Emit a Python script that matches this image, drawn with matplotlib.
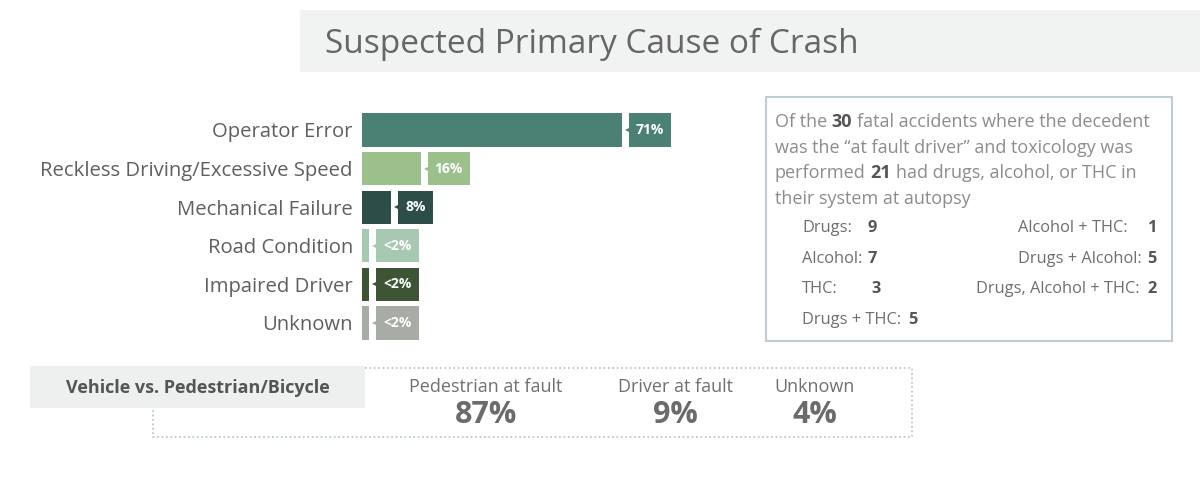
import matplotlib.pyplot as plt
from matplotlib.patches import Rectangle

plt.rcParams['font.family'] = ['Open Sans', 'DejaVu Sans']

# data
causes = ['Operator Error', 'Reckless Driving/Excessive Speed', 'Mechanical Failure',
          'Road Condition', 'Impaired Driver', 'Unknown']
cause_pct = [71, 16, 8, 2, 2, 2]
cause_labels = ['71%', '16%', '8%', '<2%', '<2%', '<2%']
cause_colors = ['#4b8175', '#9cc08c', '#2d4d48', '#a8c9b1', '#3e5535', '#a7aca5']

tox_total = 30
tox_positive = 21
tox_left = ['Drugs:', 'Alcohol:', 'THC:', 'Drugs + THC:']
tox_left_n = [9, 7, 3, 5]
tox_right = ['Alcohol + THC:', 'Drugs + Alcohol:', 'Drugs, Alcohol + THC:']
tox_right_n = [1, 5, 2]

ped_cats = ['Pedestrian at fault', 'Driver at fault', 'Unknown']
ped_pct = [87, 9, 4]

W, H = 1200, 488
fig = plt.figure(figsize=(12, 4.88), dpi=100)
fig.patch.set_facecolor('white')

# pixel-space overlay for the decorations
bg = fig.add_axes([0, 0, 1, 1])
bg.set_xlim(0, W)
bg.set_ylim(H, 0)
bg.axis('off')

renderer = fig.canvas.get_renderer()


def text_w(t):
    return t.get_window_extent(renderer).width


# title band
bg.add_patch(Rectangle((300, 10), 900, 62, fc='#f1f2f2', ec='none'))
bg.text(325, 44, 'Suspected Primary Cause of Crash', fontsize=24, color='#666666',
        va='center', ha='left')

# bar chart
px_per = 260 / 71
ax_left, ax_right = 362, 760
top, bottom = 110.7, 342.3
ax = fig.add_axes([ax_left / W, 1 - bottom / H, (ax_right - ax_left) / W, (bottom - top) / H])
ax.set_xlim(0, (ax_right - ax_left) / px_per)
ax.set_ylim(len(causes) - 0.5, -0.5)
ax.patch.set_alpha(0)
bh = 0.855
ypos = list(range(len(causes)))
ax.barh(ypos, cause_pct, height=bh, color=cause_colors)
ax.set_yticks(ypos)
ax.set_yticklabels(causes, fontsize=14.6, color='#5f5f5f')
ax.tick_params(axis='y', length=0, pad=6.5)
ax.set_xticks([])
for s in ax.spines.values():
    s.set_visible(False)

gap = 7 / px_per
padx = 7 / px_per
for i, (v, lab, c) in enumerate(zip(cause_pct, cause_labels, cause_colors)):
    x0 = v + gap
    t = ax.text(x0 + padx, i, lab, color='white', fontsize=10, fontweight='bold',
                va='center', ha='left', zorder=4)
    tw = text_w(t) / px_per
    ax.add_patch(Rectangle((x0, i - bh / 2), tw + 2 * padx, bh, fc=c, ec='none', zorder=3))
    ax.plot([x0], [i], marker='<', ms=6, mew=0, color=c, zorder=3, clip_on=False)

# toxicology box
bg.add_patch(Rectangle((766, 97), 406, 244, fc='none', ec='#bfcdd3', lw=1.5))
fs_p = 13
col_p = '#8c8c8c'
para = [
    [('Of the', 'normal'), (str(tox_total), 'bold'), ('fatal accidents where the decedent', 'normal')],
    [('was the \u201cat fault driver\u201d and toxicology was', 'normal')],
    [('performed', 'normal'), (str(tox_positive), 'bold'), ('had drugs, alcohol, or THC in', 'normal')],
    [('their system at autopsy', 'normal')],
]
sp1 = bg.text(600, 300, 'a a', fontsize=fs_p)
sp2 = bg.text(600, 300, 'aa', fontsize=fs_p)
space = text_w(sp1) - text_w(sp2)
sp1.remove()
sp2.remove()
for k, line in enumerate(para):
    x = 775
    y = 122 + k * 25.7
    for seg, wt in line:
        t = bg.text(x, y, seg, fontsize=fs_p, fontweight=wt,
                    color='#555555' if wt == 'bold' else col_p, va='center', ha='left')
        x += text_w(t) + space

fs_l = 11.8
left_num_x = [868, 868, 871, None]
for k, (lab, n) in enumerate(zip(tox_left, tox_left_n)):
    y = 228 + k * 30.7
    t = bg.text(802, y, lab, fontsize=fs_l, color='#6e6e6e', va='center', ha='left')
    nx = left_num_x[k] if left_num_x[k] is not None else 802 + text_w(t) + 1.5 * space
    bg.text(nx, y, str(n), fontsize=fs_l, fontweight='bold', color='#555555',
            va='center', ha='left')
right_lab_x = [1128, 1142, 1140]
for k, (lab, n) in enumerate(zip(tox_right, tox_right_n)):
    y = 228 + k * 30.7
    bg.text(right_lab_x[k], y, lab, fontsize=fs_l, color='#6e6e6e', va='center', ha='right')
    bg.text(1157, y, str(n), fontsize=fs_l, fontweight='bold', color='#555555',
            va='center', ha='right')

# vehicle vs pedestrian strip
bg.add_patch(Rectangle((153, 368), 759, 69, fc='none', ec='#a9c4cc', lw=1.2, ls=':'))
bg.add_patch(Rectangle((30, 366), 335, 42, fc='#eef0ef', ec='none', zorder=3))
bg.text(198, 388, 'Vehicle vs. Pedestrian/Bicycle', fontsize=13, fontweight='bold',
        color='#555555', ha='center', va='center', zorder=4)
ped_x = [486, 675, 815]
for cx, lab, p in zip(ped_x, ped_cats, ped_pct):
    bg.text(cx, 387, lab, fontsize=13, color='#707070', ha='center', va='center')
    bg.text(cx, 415, f'{p}%', fontsize=22, fontweight='bold', color='#6b6b6b',
            ha='center', va='center')

fig.savefig('out.png', dpi=100)
